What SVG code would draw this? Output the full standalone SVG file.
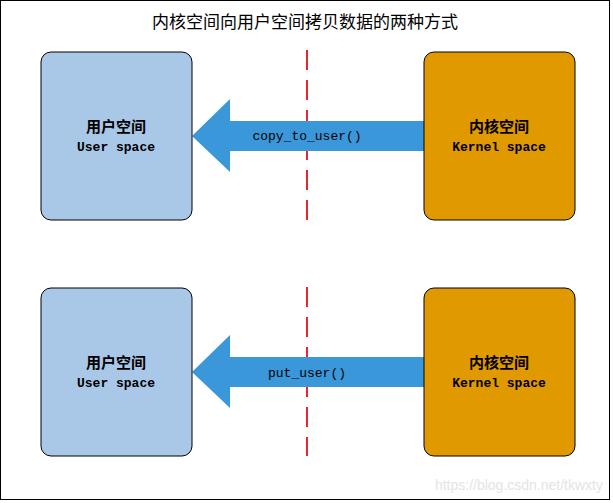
<svg xmlns="http://www.w3.org/2000/svg" width="613" height="503" viewBox="0 0 613 503">
<style>
.u{fill:#a9c8e8;stroke:#000;stroke-width:1}
.k{fill:#e09a00;stroke:#000;stroke-width:1}
.cn{font-family:"Noto Sans CJK SC",sans-serif;font-size:15px;font-weight:bold;text-anchor:middle}
.en{font-family:"Liberation Mono",monospace;font-size:13px;font-weight:bold;text-anchor:middle}
.dash{stroke:#e8262b;stroke-width:2;stroke-dasharray:20 10}
.arr{fill:#3a97d9}
</style>
<rect x="0.5" y="0.5" width="609" height="499" fill="#fff" stroke="#000"/>
<text x="305" y="28" font-family="Noto Sans CJK SC,sans-serif" font-size="17" text-anchor="middle">内核空间向用户空间拷贝数据的两种方式</text>
<g id="connectors">
<line class="dash" x1="307" y1="50" x2="307" y2="220"/>
<line class="dash" x1="307" y1="287" x2="307" y2="456"/>
<polygon class="arr" points="192,136 230,99 230,121 424,121 424,151 230,151 230,172"/>
<polygon class="arr" points="192,372 230,335 230,357 424,357 424,387 230,387 230,408"/>
<text class="en" x="307" y="140" font-weight="normal" style="font-weight:normal">copy_to_user()</text>
<text class="en" x="307" y="377" style="font-weight:normal">put_user()</text>
</g>
<g id="user1"><rect class="u" x="41" y="52" width="151" height="168" rx="10"/><text class="cn" x="116" y="132">用户空间</text><text class="en" x="116" y="151">User space</text></g>
<g id="kernel1"><rect class="k" x="424" y="52" width="151" height="168" rx="10"/><text class="cn" x="499" y="132">内核空间</text><text class="en" x="499" y="151">Kernel space</text></g>
<g id="user2"><rect class="u" x="41" y="288" width="151" height="168" rx="10"/><text class="cn" x="116" y="368">用户空间</text><text class="en" x="116" y="387">User space</text></g>
<g id="kernel2"><rect class="k" x="424" y="288" width="151" height="168" rx="10"/><text class="cn" x="499" y="368">内核空间</text><text class="en" x="499" y="387">Kernel space</text></g>
<text x="603" y="490" font-family="Liberation Sans,sans-serif" font-size="14" fill="#e4e4e4" text-anchor="end">https://blog.csdn.net/tkwxty</text>
</svg>
